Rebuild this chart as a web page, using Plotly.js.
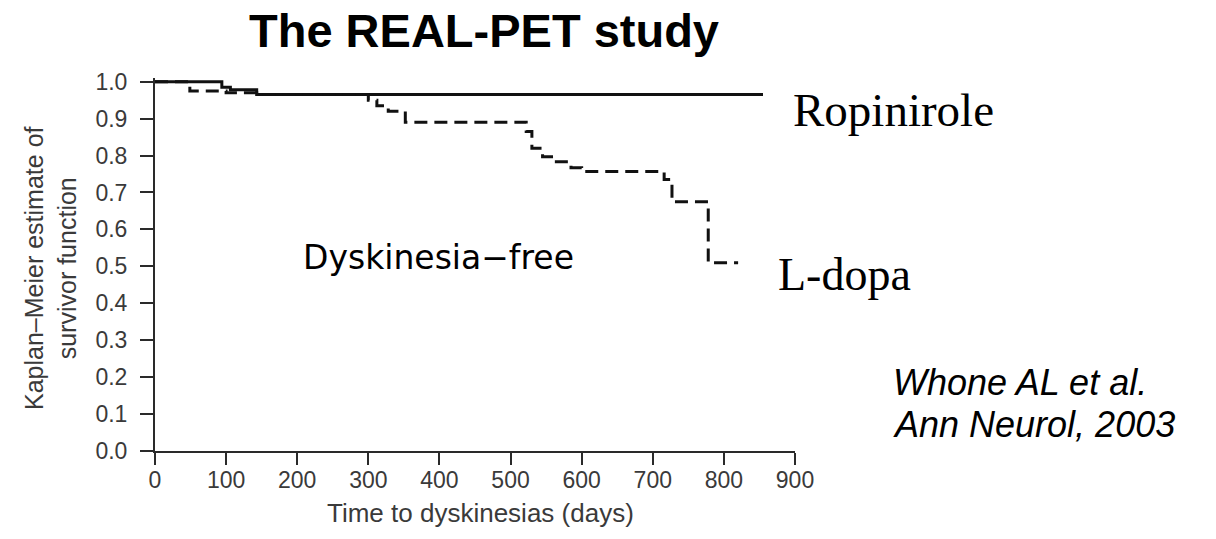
<!DOCTYPE html>
<html>
<head>
<meta charset="utf-8">
<script src="https://cdn.plot.ly/plotly-3.0.1.min.js"></script>
<style>
  html, body { margin: 0; padding: 0; background: #fff; }
  #chart { width: 1216px; height: 539px; }
</style>
</head>
<body>
<div id="chart"></div>
<script>
// Kaplan–Meier step curves (time in days, survivor estimate)
const ropiniroleDays = [0, 94, 106, 143, 855];
const ropiniroleSurv = [1.0, 0.985, 0.978, 0.965, 0.965];

const ldopaDays = [0, 49, 100, 143, 300, 312, 328, 352, 522, 530, 545, 562, 585, 600, 716, 727, 778, 820];
const ldopaSurv = [1.0, 0.975, 0.97, 0.965, 0.95, 0.935, 0.92, 0.89, 0.865, 0.82, 0.797, 0.783, 0.767, 0.757, 0.735, 0.675, 0.51, 0.51];

const xTicks = [0, 100, 200, 300, 400, 500, 600, 700, 800, 900];
const yTicks = [0.0, 0.1, 0.2, 0.3, 0.4, 0.5, 0.6, 0.7, 0.8, 0.9, 1.0];

const W = 1216, H = 539;
const M = { l: 155, r: 421, t: 78, b: 88 };
const plotW = W - M.l - M.r, plotH = H - M.t - M.b;
// pixel -> paper helpers for free-standing labels
const px = x => (x - M.l) / plotW;
const py = y => (H - M.b - y) / plotH;

const axisGrey = '#2a2a2a';
const labelGrey = '#3a3a3a';
const sans = 'Liberation Sans, Arial, sans-serif';
const serif = 'Liberation Serif, Times New Roman, serif';

const traces = [
  {
    x: ropiniroleDays, y: ropiniroleSurv, type: 'scatter', mode: 'lines',
    name: 'Ropinirole', line: { shape: 'hv', color: '#111', width: 3 }
  },
  {
    x: ldopaDays, y: ldopaSurv, type: 'scatter', mode: 'lines',
    name: 'L-dopa', line: { shape: 'hv', color: '#111', width: 3, dash: '13px,7px' }
  }
];

const layout = {
  width: W, height: H,
  margin: M,
  paper_bgcolor: '#fff', plot_bgcolor: '#fff',
  showlegend: false,
  title: {
    text: '<b>The REAL-PET study</b>',
    font: { family: sans, size: 47, color: '#000' },
    x: 484 / W, xref: 'container', xanchor: 'center',
    y: 1 - 31 / H, yref: 'container', yanchor: 'middle'
  },
  xaxis: {
    range: [0, 900], showgrid: false, zeroline: false,
    showline: true, linecolor: axisGrey, linewidth: 2,
    ticks: 'outside', ticklen: 12, tickwidth: 2, tickcolor: axisGrey,
    tickvals: xTicks, ticktext: xTicks.map(String),
    tickfont: { family: sans, size: 23, color: labelGrey },
    ticklabelstandoff: -5,
    fixedrange: true
  },
  yaxis: {
    range: [0, 1.01], showgrid: false, zeroline: false,
    showline: true, linecolor: axisGrey, linewidth: 2,
    ticks: 'outside', ticklen: 13, tickwidth: 2, tickcolor: axisGrey,
    tickvals: yTicks, ticktext: yTicks.map(v => v.toFixed(1)),
    tickfont: { family: sans, size: 23, color: labelGrey },
    ticklabelstandoff: 8,
    fixedrange: true
  },
  annotations: [
    {
      text: 'Time to dyskinesias (days)', xref: 'paper', yref: 'paper',
      x: px(480), y: py(513), xanchor: 'center', yanchor: 'middle', showarrow: false,
      font: { family: sans, size: 26, color: labelGrey }
    },
    {
      text: 'Kaplan–Meier estimate of<br>survivor function', xref: 'paper', yref: 'paper',
      x: px(50), y: py(268), xanchor: 'center', yanchor: 'middle', showarrow: false,
      textangle: -90,
      font: { family: sans, size: 25, color: labelGrey }
    },
    {
      text: 'Ropinirole', xref: 'paper', yref: 'paper',
      x: px(791), y: py(110), xanchor: 'left', yanchor: 'middle', showarrow: false,
      font: { family: serif, size: 47, color: '#000' }
    },
    {
      text: 'L-dopa', xref: 'paper', yref: 'paper',
      x: px(776), y: py(274), xanchor: 'left', yanchor: 'middle', showarrow: false,
      font: { family: serif, size: 46, color: '#000' }
    },
    {
      text: 'Dyskinesia−free', xref: 'paper', yref: 'paper',
      x: px(301), y: py(257), xanchor: 'left', yanchor: 'middle', showarrow: false,
      font: { family: 'DejaVu Sans, sans-serif', size: 33, color: '#000' }
    },
    {
      text: '<i>Whone AL et al.</i>', xref: 'paper', yref: 'paper',
      x: px(891), y: py(382), xanchor: 'left', yanchor: 'middle', showarrow: false,
      font: { family: sans, size: 36, color: '#000' }
    },
    {
      text: '<i>Ann Neurol, 2003</i>', xref: 'paper', yref: 'paper',
      x: px(891), y: py(424), xanchor: 'left', yanchor: 'middle', showarrow: false,
      font: { family: sans, size: 36, color: '#000' }
    }
  ]
};

Plotly.newPlot('chart', traces, layout, { staticPlot: true, displayModeBar: false });
</script>
</body>
</html>
